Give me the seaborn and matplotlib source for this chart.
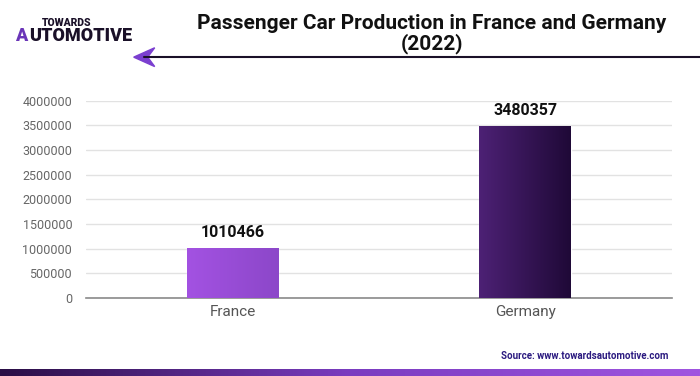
import numpy as np
import pandas as pd
import matplotlib.pyplot as plt
import seaborn as sns
from matplotlib.colors import LinearSegmentedColormap

countries = ["France", "Germany"]
production = [1010466, 3480357]
y_ticks = [0, 500000, 1000000, 1500000, 2000000, 2500000, 3000000, 3500000, 4000000]
bar_gradients = [("#a352e2", "#8c47c9"), ("#4d2175", "#1f0937")]

sns.set_theme(style="white")
plt.rcParams['font.family'] = ['Roboto', 'DejaVu Sans']

df = pd.DataFrame({"country": countries, "production": production})

fig = plt.figure(figsize=(7, 3.76), dpi=100)
ax = fig.add_axes([0.1229, 0.2074, 0.837, 0.525])

sns.barplot(data=df, x="country", y="production", color="#8c47c9", width=0.314,
            ax=ax, zorder=2)

# gradient fill on each bar
for patch, (c0, c1) in zip(ax.patches, bar_gradients):
    x0, y0 = patch.get_x(), patch.get_y()
    w, h = patch.get_width(), patch.get_height()
    cmap = LinearSegmentedColormap.from_list("g", [c0, c1])
    grad = np.linspace(0, 1, 256).reshape(1, -1)
    ax.imshow(grad, cmap=cmap, extent=[x0, x0 + w, y0, y0 + h], aspect="auto", zorder=3)
    ax.annotate(f"{int(h)}", (x0 + w / 2, h), xytext=(0, 6), textcoords="offset points",
                ha="center", va="bottom", fontsize=11.5, color="#111111", fontweight="semibold")

ax.set_xlim(-0.5, 1.5)
ax.set_ylim(0, 4000000)
ax.set_yticks(y_ticks)
ax.set_yticklabels([str(t) for t in y_ticks])
ax.yaxis.grid(True, color="#e2e2e2", linewidth=1, zorder=0)
ax.set_axisbelow(True)
ax.set_xlabel("")
ax.set_ylabel("")
for s in ["top", "right", "left"]:
    ax.spines[s].set_visible(False)
ax.spines["bottom"].set_color("#8a8a8a")
ax.spines["bottom"].set_linewidth(1.2)
ax.tick_params(axis="y", labelsize=9, colors="#666666", length=0, pad=10)
ax.tick_params(axis="x", labelsize=11, colors="#555555", length=0, pad=5)

# title
fig.text(0.617, 0.91, "Passenger Car Production in France and Germany\n(2022)",
         ha="center", va="center", fontsize=15, fontweight="bold", color="#111111",
         linespacing=0.98)

# logo
fig.text(0.06, 0.938, "TOWARDS", fontsize=7.5, fontweight="black", color="#1a1028",
         ha="left", va="center")
fig.text(0.021, 0.903, "A", fontsize=13, fontweight="black", color="#6a35b8",
         ha="left", va="center")
fig.text(0.0415, 0.903, "UTOMOTIVE", fontsize=13, fontweight="black", color="#1a1028",
         ha="left", va="center")

# arrow line
fig.add_artist(plt.Line2D([0.205, 1.0], [0.848, 0.848], color="#1a1028", linewidth=1.5,
                          transform=fig.transFigure))
fig.patches.append(plt.Polygon([[0.191, 0.848], [0.221, 0.873], [0.211, 0.848], [0.221, 0.823]],
                               closed=True, color="#7b3fd0", transform=fig.transFigure,
                               figure=fig))

# source
fig.text(0.955, 0.053, "Source: www.towardsautomotive.com", ha="right", va="center",
         fontsize=7, fontweight="bold", color="#2b1a80")

# bottom gradient strip
strip = fig.add_axes([0, 0, 1, 0.019])
strip.imshow(np.linspace(0, 1, 256).reshape(1, -1), aspect="auto",
             cmap=LinearSegmentedColormap.from_list("s", ["#2a0e45", "#7a3cc0", "#a055e0"]))
strip.axis("off")

fig.savefig("out.png", dpi=100)
